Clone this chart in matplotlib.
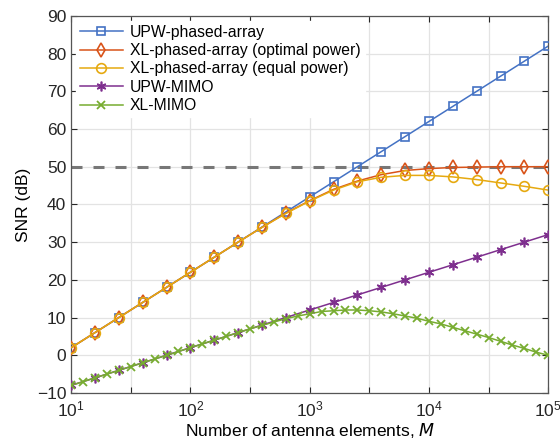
import numpy as np
import matplotlib
matplotlib.use("Agg")
import matplotlib.pyplot as plt
from matplotlib.ticker import LogLocator, FixedLocator, NullFormatter

plt.rcParams["font.family"] = ["Liberation Sans", "DejaVu Sans"]

# antenna counts: phased-array / UPW-MIMO sampled every 0.2 decade, XL-MIMO every 0.1 decade
M_coarse = [10, 15.85, 25.12, 39.81, 63.1, 100, 158.5, 251.2, 398.1, 631, 1000,
            1585, 2512, 3981, 6310, 10000, 15850, 25120, 39810, 63100, 100000]
M_fine = [10, 12.59, 15.85, 19.95, 25.12, 31.62, 39.81, 50.12, 63.1, 79.43,
          100, 125.9, 158.5, 199.5, 251.2, 316.2, 398.1, 501.2, 631, 794.3,
          1000, 1259, 1585, 1995, 2512, 3162, 3981, 5012, 6310, 7943,
          10000, 12590, 15850, 19950, 25120, 31620, 39810, 50120, 63100, 79430, 100000]

upw_pa = [2, 6, 10, 14, 18, 22, 26, 30, 34, 38, 42,
          46, 50, 54, 58, 62, 66, 70, 74, 78, 82]
xl_pa_opt = [2, 6, 10, 14, 18, 22, 26, 30, 33.9, 37.7, 41.0,
             44.0, 46.2, 47.9, 49.0, 49.5, 49.8, 49.9, 50.0, 50.0, 50.0]
xl_pa_eq = [2, 6, 10, 14, 18, 22, 26, 30, 33.9, 37.6, 40.9,
            43.8, 46.0, 47.2, 47.7, 47.7, 47.3, 46.6, 45.7, 44.8, 43.8]
upw_mimo = [-8, -6, -4, -2, 0, 2, 4, 6, 8, 10, 12,
            14, 16, 18, 20, 22, 24, 26, 28, 30, 32]
xl_mimo = [-8, -7, -6, -5, -4, -3, -2, -1, 0, 1,
           2, 3, 4, 5, 6, 7, 7.9, 8.8, 9.7, 10.4,
           11.0, 11.6, 11.8, 12.0, 12.0, 11.8, 11.5, 11.0, 10.4, 9.8,
           9.0, 8.3, 7.4, 6.5, 5.6, 4.7, 3.7, 2.7, 1.8, 0.8, 0.0]
threshold = 50

fig = plt.figure(figsize=(5.6, 4.42), dpi=100)
ax = fig.add_axes([0.127, 0.111, 0.852, 0.853])

ax.axhline(threshold, color="#777777", lw=2.2, dashes=(3.6, 3.6), zorder=1)

ax.plot(M_coarse, upw_pa, color="#4472C4", lw=1.1, marker="s", ms=6, mfc="none",
        mew=1.2, label="UPW-phased-array", zorder=3)
ax.plot(M_coarse, xl_pa_opt, color="#D95319", lw=1.1, marker="d", ms=7.5, mfc="none",
        mew=1.2, label="XL-phased-array (optimal power)", zorder=3)
ax.plot(M_coarse, xl_pa_eq, color="#E6A910", lw=1.1, marker="o", ms=7, mfc="none",
        mew=1.2, label="XL-phased-array (equal power)", zorder=3)
ax.plot(M_coarse, upw_mimo, color="#7E2F8E", lw=1.1, marker=(6, 2, 0), ms=7,
        mew=1.2, label="UPW-MIMO", zorder=3)
ax.plot(M_fine, xl_mimo, color="#77AC30", lw=1.1, marker="x", ms=6,
        mew=1.3, label="XL-MIMO", zorder=3)

ax.set_xscale("log")
ax.set_xlim(10, 1e5)
ax.set_ylim(-10, 90)
ax.set_yticks(np.arange(-10, 91, 10))
ax.xaxis.set_major_locator(LogLocator(base=10, numticks=10))
ax.xaxis.set_minor_locator(FixedLocator([10 ** (k + 0.5) for k in range(1, 5)]))
ax.xaxis.set_minor_formatter(NullFormatter())

ax.grid(True, which="both", color="#e3e3e3", lw=0.9, zorder=0)
ax.tick_params(which="both", direction="in", top=True, right=True, labelsize=12.5,
               colors="#262626", length=4, width=0.8)
ax.tick_params(axis="x", pad=5)
for s in ax.spines.values():
    s.set_color("#555555")
    s.set_linewidth(0.9)
ax.set_axisbelow(True)

ax.set_xlabel("Number of antenna elements, $M$", fontsize=12.5, labelpad=1)
ax.set_ylabel("SNR (dB)", fontsize=12.5, labelpad=4)

leg = ax.legend(loc="upper left", fontsize=11.3, frameon=True, fancybox=False,
                edgecolor="white", framealpha=1, handlelength=2.75, borderpad=0.25,
                labelspacing=0.22, borderaxespad=0.3, handletextpad=0.45)

fig.savefig("out.png", dpi=100)
